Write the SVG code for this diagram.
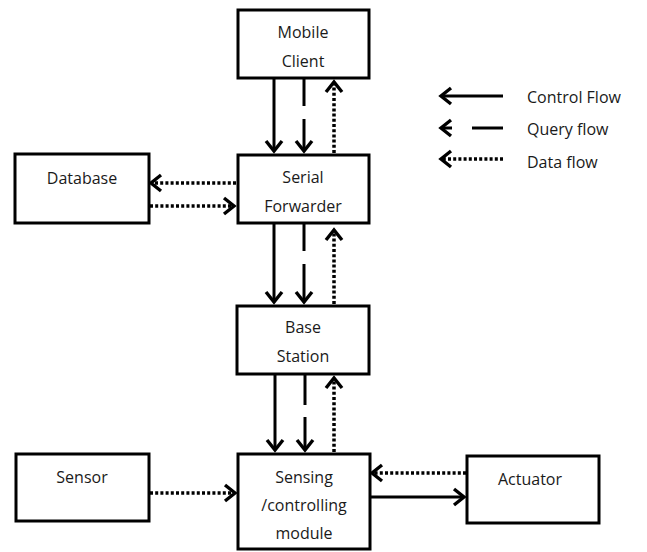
<svg xmlns="http://www.w3.org/2000/svg" width="647" height="552" viewBox="0 0 647 552">
  <style>
    .box { fill: #ffffff; stroke: #000000; stroke-width: 3; }
    .lbl { font-family: "Open Sans", "Liberation Sans", sans-serif; font-size: 16px; fill: #1a1a1a; text-anchor: middle; }
    .leg { font-family: "Open Sans", "Liberation Sans", sans-serif; font-size: 16px; fill: #1a1a1a; }
    .ctl { stroke: #000000; stroke-width: 3; fill: none; }
    .qry { stroke: #000000; stroke-width: 3; fill: none; }
    .dat { stroke: #000000; stroke-width: 3.5; fill: none; stroke-dasharray: 3 2.2; }
  </style>
  <defs>
    <marker id="head" markerUnits="userSpaceOnUse" markerWidth="26" markerHeight="26" viewBox="-13 -13 26 26" refX="0" refY="0" orient="auto">
      <path d="M-10,-8 L0,0 L-10,8" fill="none" stroke="#000000" stroke-width="3.4" stroke-linejoin="miter"/>
    </marker>
  </defs>

  <rect width="647" height="552" fill="#ffffff"/>

  <!-- nodes -->
  <g id="mobile-client">
    <rect class="box" x="238" y="10" width="131" height="68"/>
    <text class="lbl" x="303" y="38">Mobile</text>
    <text class="lbl" x="303" y="67">Client</text>
  </g>
  <g id="serial-forwarder">
    <rect class="box" x="238" y="155" width="131" height="68"/>
    <text class="lbl" x="303" y="183">Serial</text>
    <text class="lbl" x="303" y="212">Forwarder</text>
  </g>
  <g id="database">
    <rect class="box" x="15" y="154" width="134" height="69"/>
    <text class="lbl" x="82" y="184">Database</text>
  </g>
  <g id="base-station">
    <rect class="box" x="237" y="306" width="132" height="68"/>
    <text class="lbl" x="303" y="333">Base</text>
    <text class="lbl" x="303" y="362">Station</text>
  </g>
  <g id="sensing-module">
    <rect class="box" x="238" y="454" width="132" height="95"/>
    <text class="lbl" x="304" y="483">Sensing</text>
    <text class="lbl" x="304" y="511">/controlling</text>
    <text class="lbl" x="304" y="539">module</text>
  </g>
  <g id="sensor">
    <rect class="box" x="16" y="454" width="133" height="67"/>
    <text class="lbl" x="82" y="483">Sensor</text>
  </g>
  <g id="actuator">
    <rect class="box" x="467" y="456" width="132" height="67"/>
    <text class="lbl" x="530" y="485">Actuator</text>
  </g>

  <!-- connectors -->
  <g id="connectors">
    <!-- Mobile Client <-> Serial Forwarder -->
    <line class="ctl" x1="274" y1="79" x2="274" y2="151" marker-end="url(#head)"/>
    <line class="qry" x1="304" y1="79" x2="304" y2="106"/>
    <line class="qry" x1="304" y1="119" x2="304" y2="151" marker-end="url(#head)"/>
    <line class="dat" x1="334" y1="153" x2="334" y2="82" marker-end="url(#head)"/>

    <!-- Serial Forwarder <-> Database -->
    <line class="dat" x1="236" y1="183" x2="151" y2="183" marker-end="url(#head)"/>
    <line class="dat" x1="150" y1="206" x2="234" y2="206" marker-end="url(#head)"/>

    <!-- Serial Forwarder <-> Base Station -->
    <line class="ctl" x1="274" y1="224" x2="274" y2="302" marker-end="url(#head)"/>
    <line class="qry" x1="304" y1="224" x2="304" y2="251"/>
    <line class="qry" x1="304" y1="264" x2="304" y2="302" marker-end="url(#head)"/>
    <line class="dat" x1="334" y1="304" x2="334" y2="230" marker-end="url(#head)"/>

    <!-- Base Station <-> Sensing module -->
    <line class="ctl" x1="275" y1="375" x2="275" y2="450" marker-end="url(#head)"/>
    <line class="qry" x1="305" y1="375" x2="305" y2="405"/>
    <line class="qry" x1="305" y1="417" x2="305" y2="450" marker-end="url(#head)"/>
    <line class="dat" x1="334" y1="452" x2="334" y2="378" marker-end="url(#head)"/>

    <!-- Sensor / Actuator -->
    <line class="dat" x1="150" y1="493" x2="235" y2="493" marker-end="url(#head)"/>
    <line class="dat" x1="466" y1="473" x2="372" y2="473" marker-end="url(#head)"/>
    <line class="ctl" x1="371" y1="497" x2="464" y2="497" marker-end="url(#head)"/>
  </g>

  <!-- legend -->
  <g id="legend">
    <line class="ctl" x1="503" y1="96" x2="441" y2="96" marker-end="url(#head)"/>
    <text class="leg" x="527" y="103">Control Flow</text>
    <line class="qry" x1="452" y1="128" x2="441" y2="128" marker-end="url(#head)"/>
    <line class="qry" x1="472" y1="128" x2="503" y2="128"/>
    <text class="leg" x="527" y="135">Query flow</text>
    <line class="dat" x1="503" y1="159" x2="441" y2="159" marker-end="url(#head)"/>
    <text class="leg" x="527" y="168">Data flow</text>
  </g>
</svg>
